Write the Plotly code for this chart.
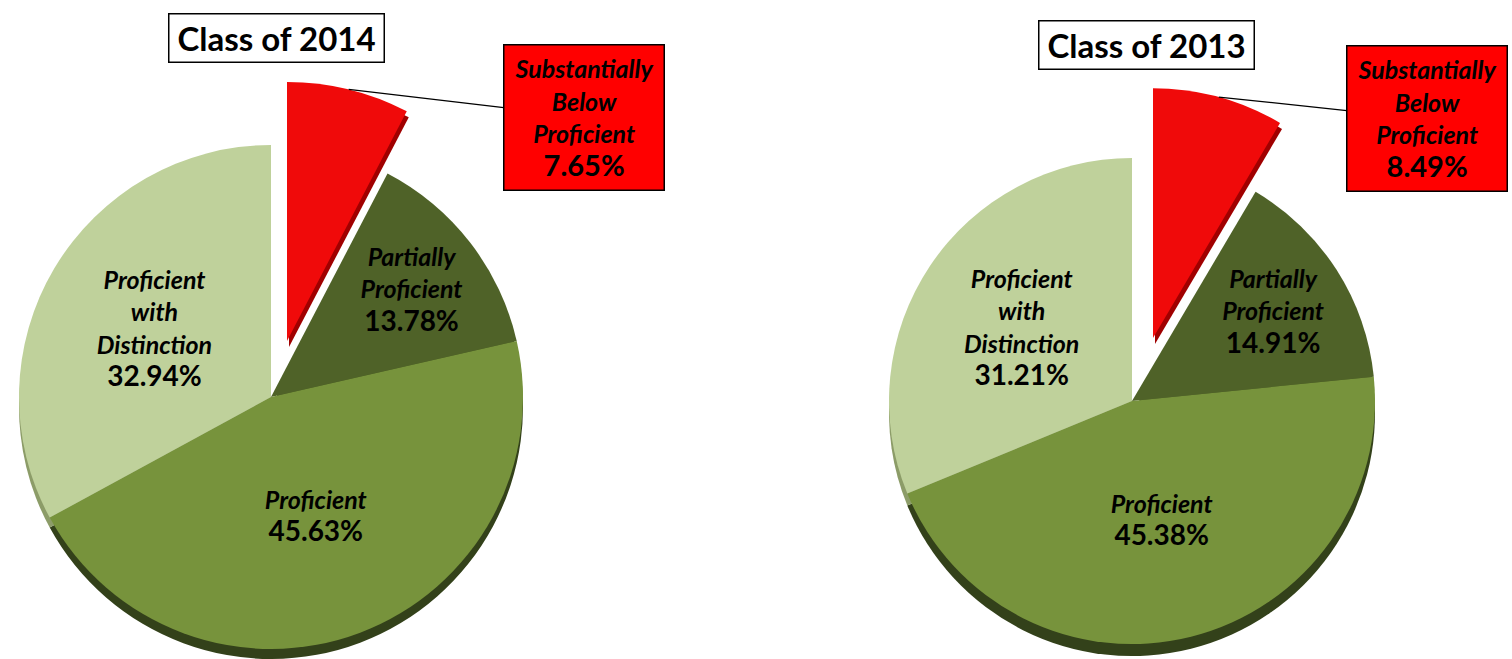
import plotly.graph_objects as go
import math

W, H = 1512, 659

categories = ["Substantially Below Proficient", "Partially Proficient",
              "Proficient", "Proficient with Distinction"]
titles = ["Class of 2014", "Class of 2013"]
values_2014 = [7.65, 13.78, 45.63, 32.94]
values_2013 = [8.49, 14.91, 45.38, 31.21]

colors = ["#F00A0A", "#4F6228", "#77933C", "#BFD19B"]
side_colors = ["#A00000", "#2F3B16", "#33411A", "#8C9C68"]
FONT = "Lato"
EXPLODE_SCALE = 1.028

# geometry (pixels): centre, radius, explode offset of first slice, side depth, title centre, callout box centre
specs = [
    dict(title=titles[0], values=values_2014, cx=271, cy=397, r=252, off=(16, -56), depth=10,
         tbox=(276, 38), cbox=(584, 117)),
    dict(title=titles[1], values=values_2013, cx=1132, cy=401, r=243, off=(21, -63), depth=12,
         tbox=(1146, 45), cbox=(1427, 119)),
]


def dom(cx, cy, r):
    return dict(x=[(cx - r) / W, (cx + r) / W], y=[1 - (cy + r) / H, 1 - (cy - r) / H])


labels_br = [c.replace(" ", "<br>") for c in categories]
fig = go.Figure()
annotations = []
common = dict(sort=False, direction="clockwise", rotation=0, hoverinfo="skip",
              showlegend=False, marker_line_width=0)

for s in specs:
    v = s["values"]
    cx, cy, r = s["cx"], s["cy"], s["r"]
    dx, dy = s["off"]
    rr = r * EXPLODE_SCALE
    clear = "rgba(0,0,0,0)"
    # 3D side (shadow) of the main pie
    fig.add_trace(go.Pie(values=v, labels=categories, domain=dom(cx, cy + s["depth"], r),
                         marker=dict(colors=[clear] + side_colors[1:]), textinfo="none", **common))
    # main pie without first slice
    tt = [""] + ["<i>" + labels_br[i] + "</i><br><span style='font-size:28px'>%{value:.2f}%</span>"
                 for i in range(1, 4)]
    fig.add_trace(go.Pie(values=v, labels=categories, domain=dom(cx, cy, r),
                         marker=dict(colors=[clear] + colors[1:]),
                         texttemplate=tt, textposition="inside", insidetextorientation="horizontal",
                         textfont=dict(family=FONT, size=25, color="black", weight="bold"), **common))
    # exploded slice: side then top
    fig.add_trace(go.Pie(values=v, labels=categories, domain=dom(cx + dx + 2, cy + dy + 6, rr),
                         marker=dict(colors=[side_colors[0]] + [clear] * 3), textinfo="none", **common))
    fig.add_trace(go.Pie(values=v, labels=categories, domain=dom(cx + dx, cy + dy, rr),
                         marker=dict(colors=[colors[0]] + [clear] * 3), textinfo="none", **common))

    # title box
    tx, ty = s["tbox"]
    annotations.append(dict(x=tx / W, y=1 - ty / H, xref="paper", yref="paper", showarrow=False,
                            xanchor="center", yanchor="middle",
                            text="<b>" + s["title"] + "</b>",
                            font=dict(family=FONT, size=33, color="black"),
                            bgcolor="white", bordercolor="black", borderwidth=1.5, borderpad=3,
                            width=208, height=41))
    # callout for exploded slice
    ang = math.radians(v[0] / 100 * 360 / 2)
    px = cx + dx + rr * math.sin(ang)
    py = cy + dy - rr * math.cos(ang)
    bx, by = s["cbox"]
    annotations.append(dict(x=px / W, y=1 - py / H, xref="paper", yref="paper",
                            showarrow=True, arrowhead=0, arrowwidth=1.2, arrowcolor="black",
                            ax=bx - px, ay=by - py,
                            text="<b><i>" + labels_br[0] + "</i><br><span style='font-size:29px'>"
                                 + f"{v[0]:.2f}%" + "</span></b>",
                            font=dict(family=FONT, size=25, color="black"),
                            bgcolor="#FF0000", bordercolor="black", borderwidth=1.5, borderpad=2,
                            width=155, height=140))

fig.update_layout(width=W, height=H, margin=dict(l=0, r=0, t=0, b=0),
                  paper_bgcolor="white", plot_bgcolor="white", annotations=annotations,
                  uniformtext=dict(minsize=25, mode="show"))
fig.write_html("out.html", config={"displayModeBar": False},
               post_script="document.body.style.margin='0px';")
